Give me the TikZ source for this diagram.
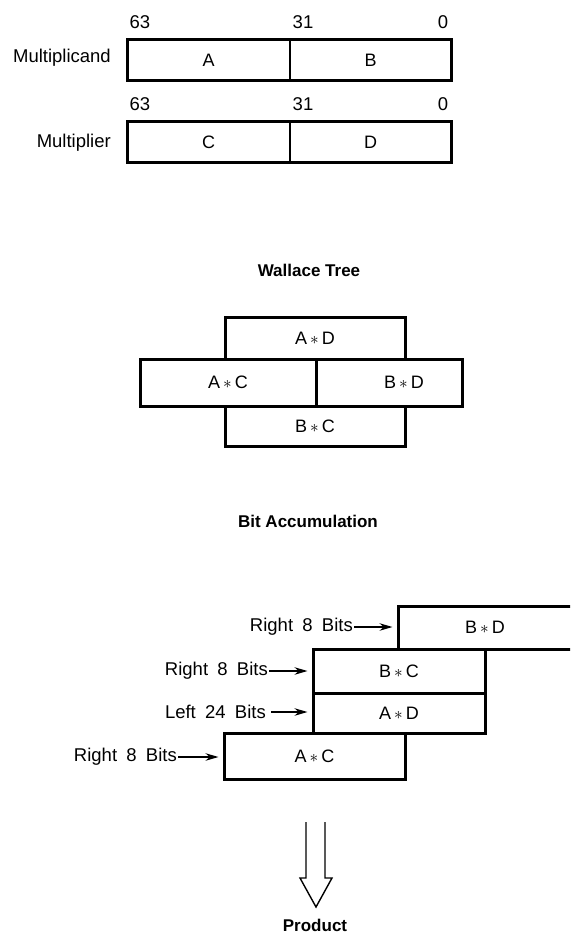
\documentclass[tikz,border=0pt]{standalone}
\usepackage{fontspec}
\setmainfont{Liberation Sans}
\usetikzlibrary{arrows.meta}
\newcommand\widespace{\spaceskip 0.5em\relax}

\begin{document}
\begin{tikzpicture}[x=1pt, y=-1pt,
        txt/.style={font={\fontsize{18.5}{22}\selectfont\widespace}, inner sep=1pt},
        ttl/.style={font=\fontsize{17}{20}\selectfont\bfseries},
        half/.style={draw, line width=0.9pt, minimum width=161pt, minimum height=41pt, inner sep=0pt, font=\fontsize{18}{21}\selectfont},
        blk/.style={draw, line width=3pt, inner sep=0pt, font=\fontsize{18}{21}\selectfont},
        arr/.style={-{Stealth[length=13pt, width=7.5pt]}, line width=1.2pt, shorten >=4pt}
    ]
        \useasboundingbox (0,0) rectangle (570,936);
        \clip (0,0) rectangle (570,936);

        % registers
        \node[half] (ra) at (208.5, 60) {A};
        \node[half] (rb) at (370.5, 60) {B};
        \draw[line width=3pt] (ra.north west) rectangle (rb.south east);
        \node[txt, anchor=east] (mcand) at (112, 58) {Multiplicand};
        \node[txt] (ma63) at (140, 22) {63};
        \node[txt] (ma31) at (303, 22) {31};
        \node[txt] (ma0) at (443, 22) {0};

        \node[half] (rc) at (208.5, 142) {C};
        \node[half] (rd) at (370.5, 142) {D};
        \draw[line width=3pt] (rc.north west) rectangle (rd.south east);
        \node[txt, anchor=east] (mplier) at (112, 143) {Multiplier};
        \node[txt] (mb63) at (140, 104) {63};
        \node[txt] (mb31) at (303, 104) {31};
        \node[txt] (mb0) at (443, 104) {0};

        % wallace tree
        \node[ttl] (wallace) at (309, 270) {Wallace Tree};
        \node[blk, minimum width=180pt, minimum height=42pt] (wad) at (315, 338) {A\,$\ast$\,D};
        \node[blk, minimum width=176pt, minimum height=47pt] (wac) at (228, 382.5) {A\,$\ast$\,C};
        \node[blk, minimum width=146pt, minimum height=47pt,
            label={[font=\fontsize{18}{21}\selectfont, xshift=15pt]center:B\,$\ast$\,D}] (wbd) at (389, 382.5) {};
        \node[blk, minimum width=180pt, minimum height=40pt] (wbc) at (315, 426) {B\,$\ast$\,C};

        % bit accumulation
        \node[ttl] (accum) at (308, 521) {Bit Accumulation};
        \node[blk, minimum width=174pt, minimum height=43pt] (abd) at (485, 627.5) {B\,$\ast$\,D};
        \node[blk, minimum width=172pt, minimum height=44pt] (abc) at (399, 671) {B\,$\ast$\,C};
        \node[blk, minimum width=172pt, minimum height=40pt] (aad) at (399, 713) {A\,$\ast$\,D};
        \node[blk, minimum width=181pt, minimum height=46pt] (aac) at (314.5, 756) {A\,$\ast$\,C};

        \node[txt, anchor=east] (sbd) at (354, 627) {Right 8 Bits};
        \node[txt, anchor=east] (sbc) at (269, 671) {Right 8 Bits};
        \node[txt, anchor=east] (sad) at (267, 712) {Left 24 Bits};
        \node[txt, anchor=east] (sac) at (178, 757) {Right 8 Bits};
        \draw[arr] (sbd.east) -- (sbd.east -| abd.west);
        \draw[arr] (sbc.east) -- (sbc.east -| abc.west);
        \draw[arr] ([xshift=4pt]sad.east) -- (sad.east -| aad.west);
        \draw[arr] (sac.east) -- (sac.east -| aac.west);

        % product
        \draw[line width=1.4pt, line join=miter]
            (306,822) -- (306,878) -- (300,878) -- (316,907) -- (332,878) -- (325,878) -- (325,822);
        \node[ttl] (product) at (315, 925) {Product};
    \end{tikzpicture}
\end{document}
